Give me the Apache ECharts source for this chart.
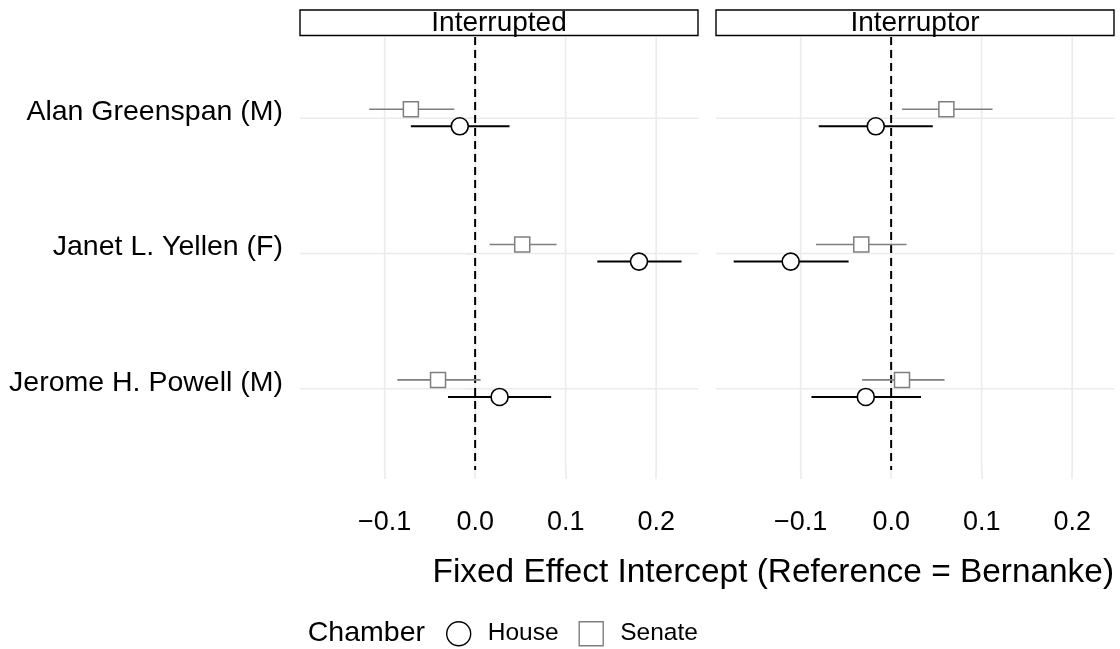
<!DOCTYPE html>
<html>
<head>
<meta charset="utf-8">
<script src="https://cdn.jsdelivr.net/npm/echarts@6/dist/echarts.min.js"></script>
<style>
  html, body { margin: 0; padding: 0; background: #ffffff; }
  #chart { width: 1120px; height: 649px; }
</style>
</head>
<body>
<div id="chart"></div>
<script>
// ---- data -------------------------------------------------------------
const people = ['Alan Greenspan (M)', 'Janet L. Yellen (F)', 'Jerome H. Powell (M)'];
const panels = ['Interrupted', 'Interruptor'];
const chambers = ['House', 'Senate'];
const xTicks = [-0.1, 0.0, 0.1, 0.2];
const refValue = 0;

// House estimates and 95% intervals, per panel, in the order of `people`
const houseInterruptedEst = [-0.017, 0.181, 0.027];
const houseInterruptedLo  = [-0.071, 0.135, -0.030];
const houseInterruptedHi  = [0.038, 0.228, 0.084];
const houseInterruptorEst = [-0.017, -0.111, -0.028];
const houseInterruptorLo  = [-0.080, -0.174, -0.088];
const houseInterruptorHi  = [0.046, -0.047, 0.033];

// Senate estimates and 95% intervals
const senateInterruptedEst = [-0.071, 0.052, -0.041];
const senateInterruptedLo  = [-0.117, 0.016, -0.086];
const senateInterruptedHi  = [-0.023, 0.090, 0.006];
const senateInterruptorEst = [0.061, -0.033, 0.012];
const senateInterruptorLo  = [0.012, -0.083, -0.032];
const senateInterruptorHi  = [0.112, 0.017, 0.059];

// ---- layout / style ---------------------------------------------------
const FONT = "'Liberation Sans', Arial, Helvetica, sans-serif";
const X_MIN = -0.1935, X_MAX = 0.2462;
const Y_MIN = 0.4, Y_MAX = 3.6;
const DODGE = { House: 0.06, Senate: -0.066 };
const GRID_TOP = 37, GRID_H = 433, GRID_W = 398;
const GRID_LEFTS = [300, 716];
const GRID_COLOR = '#ebebeb';
const GRID_WIDTH = 1.6;
const SENATE_COLOR = '#7f7f7f';

const yPos = people.map((p, i) => i + 1);

const sets = [
  { panel: 0, chamber: 'House',  est: houseInterruptedEst,  lo: houseInterruptedLo,  hi: houseInterruptedHi },
  { panel: 0, chamber: 'Senate', est: senateInterruptedEst, lo: senateInterruptedLo, hi: senateInterruptedHi },
  { panel: 1, chamber: 'House',  est: houseInterruptorEst,  lo: houseInterruptorLo,  hi: houseInterruptorHi },
  { panel: 1, chamber: 'Senate', est: senateInterruptorEst, lo: senateInterruptorLo, hi: senateInterruptorHi }
];

const fmtTick = v => (v < 0 ? '\u2212' : '') + Math.abs(v).toFixed(1);

const grids = GRID_LEFTS.map(left => ({
  left: left, top: GRID_TOP, width: GRID_W, height: GRID_H,
  containLabel: false, outerBoundsMode: 'none'
}));

const xAxes = panels.map((p, i) => ({
  type: 'value', gridIndex: i, min: X_MIN, max: X_MAX,
  axisLine: { show: false },
  splitLine: { show: false },
  axisTick: { show: true, length: 9, customValues: xTicks, lineStyle: { color: GRID_COLOR, width: GRID_WIDTH } },
  axisLabel: {
    customValues: xTicks, formatter: fmtTick, margin: 53, verticalAlign: 'middle',
    fontSize: 27, fontFamily: FONT, color: '#000000'
  }
}));

// person names sit slightly above their grid line: a small empty second line lifts them
const yAxes = panels.map((p, i) => ({
  type: 'value', gridIndex: i, min: Y_MIN, max: Y_MAX, inverse: true,
  axisLine: { show: false },
  splitLine: { show: false },
  axisTick: { show: i === 0, length: 9, customValues: yPos, lineStyle: { color: GRID_COLOR, width: GRID_WIDTH } },
  axisLabel: {
    show: i === 0, customValues: yPos,
    formatter: v => '{name|' + (people[Math.round(v) - 1] || '') + '}\n{gap|}',
    margin: 17, align: 'right',
    rich: {
      name: { fontSize: 28.5, fontFamily: FONT, color: '#000000', lineHeight: 30, align: 'right' },
      gap: { fontSize: 1, lineHeight: 12, height: 12 }
    }
  }
}));

const series = [];

// grid lines (vertical at x ticks, horizontal at each person)
panels.forEach((p, i) => {
  const gridData = xTicks.map(v => [0, v]).concat(yPos.map(v => [1, v]));
  series.push({
    type: 'custom', name: 'grid' + i, xAxisIndex: i, yAxisIndex: i, silent: true, z: 1,
    encode: { x: -1, y: -1 },
    data: gridData,
    renderItem: (params, api) => {
      const cs = params.coordSys;
      const kind = api.value(0), v = api.value(1);
      if (kind === 0) {
        const x = api.coord([v, 1])[0];
        return { type: 'line', shape: { x1: x, y1: cs.y, x2: x, y2: cs.y + cs.height },
                 style: { stroke: GRID_COLOR, lineWidth: GRID_WIDTH } };
      }
      const y = api.coord([0, v])[1];
      return { type: 'line', shape: { x1: cs.x, y1: y, x2: cs.x + cs.width, y2: y },
               style: { stroke: GRID_COLOR, lineWidth: GRID_WIDTH } };
    }
  });
  // dashed reference line at zero
  series.push({
    type: 'custom', name: 'ref' + i, xAxisIndex: i, yAxisIndex: i, silent: true, z: 2,
    encode: { x: 0, y: -1 },
    data: [[refValue]],
    renderItem: (params, api) => {
      const cs = params.coordSys;
      const x = api.coord([api.value(0), 1])[0];
      return { type: 'line', shape: { x1: x, y1: cs.y, x2: x, y2: cs.y + cs.height },
               style: { stroke: '#000000', lineWidth: 2, lineDash: [8, 5] } };
    }
  });
});

// interval segments and point estimates
sets.forEach(s => {
  const isHouse = s.chamber === 'House';
  const color = isHouse ? '#000000' : SENATE_COLOR;
  const off = DODGE[s.chamber];
  series.push({
    type: 'custom', name: s.chamber + ' interval', xAxisIndex: s.panel, yAxisIndex: s.panel,
    silent: true, z: 3,
    encode: { x: [0, 1], y: 2 },
    data: s.est.map((e, k) => [s.lo[k], s.hi[k], yPos[k] + off]),
    renderItem: (params, api) => {
      const p1 = api.coord([api.value(0), api.value(2)]);
      const p2 = api.coord([api.value(1), api.value(2)]);
      return { type: 'line', shape: { x1: p1[0], y1: p1[1], x2: p2[0], y2: p2[1] },
               style: { stroke: color, lineWidth: isHouse ? 2 : 1.6 } };
    }
  });
  series.push({
    type: 'scatter', name: s.chamber, xAxisIndex: s.panel, yAxisIndex: s.panel, z: 4,
    symbol: isHouse ? 'circle' : 'rect',
    symbolSize: isHouse ? 17 : 15,
    itemStyle: { color: '#ffffff', borderColor: color, borderWidth: isHouse ? 1.6 : 1.5, opacity: 1 },
    emphasis: { disabled: true },
    data: s.est.map((e, k) => [e, yPos[k] + off])
  });
});

// facet strips, axis title and legend title
const graphics = [];
panels.forEach((p, i) => {
  const left = GRID_LEFTS[i];
  graphics.push({
    type: 'rect', silent: true,
    shape: { x: left, y: 10, width: GRID_W, height: 25.5 },
    style: { fill: '#ffffff', stroke: '#000000', lineWidth: 1.4 }
  });
  graphics.push({
    type: 'text', silent: true, x: left + GRID_W / 2, y: 23.5,
    style: { text: p, fontSize: 28, fontFamily: FONT, fill: '#000000',
             align: 'center', verticalAlign: 'middle', textAlign: 'center', textVerticalAlign: 'middle' }
  });
});
graphics.push({
  type: 'text', silent: true, x: GRID_LEFTS[1] + GRID_W, y: 573,
  style: { text: 'Fixed Effect Intercept (Reference = Bernanke)', fontSize: 33.4, fontFamily: FONT, fill: '#000000',
           align: 'right', verticalAlign: 'middle', textAlign: 'right', textVerticalAlign: 'middle' }
});
graphics.push({
  type: 'text', silent: true, x: 425, y: 633,
  style: { text: 'Chamber', fontSize: 28.5, fontFamily: FONT, fill: '#000000',
           align: 'right', verticalAlign: 'middle', textAlign: 'right', textVerticalAlign: 'middle' }
});

const option = {
  backgroundColor: '#ffffff',
  animation: false,
  grid: grids,
  xAxis: xAxes,
  yAxis: yAxes,
  legend: {
    left: 446, top: 621, padding: 0, orient: 'horizontal',
    itemWidth: 24, itemHeight: 24, itemGap: 20, selectedMode: false,
    textStyle: { fontSize: 24.5, fontFamily: FONT, color: '#000000', padding: [0, 0, 0, 12] },
    data: [
      { name: 'House', icon: 'circle', itemStyle: { color: '#ffffff', borderColor: '#000000', borderWidth: 1.4 } },
      { name: 'Senate', icon: 'rect', itemStyle: { color: '#ffffff', borderColor: SENATE_COLOR, borderWidth: 1.4 } }
    ]
  },
  graphic: { elements: graphics },
  series: series
};

const chart = echarts.init(document.getElementById('chart'), null, { renderer: 'canvas' });
chart.setOption(option);
</script>
</body>
</html>
